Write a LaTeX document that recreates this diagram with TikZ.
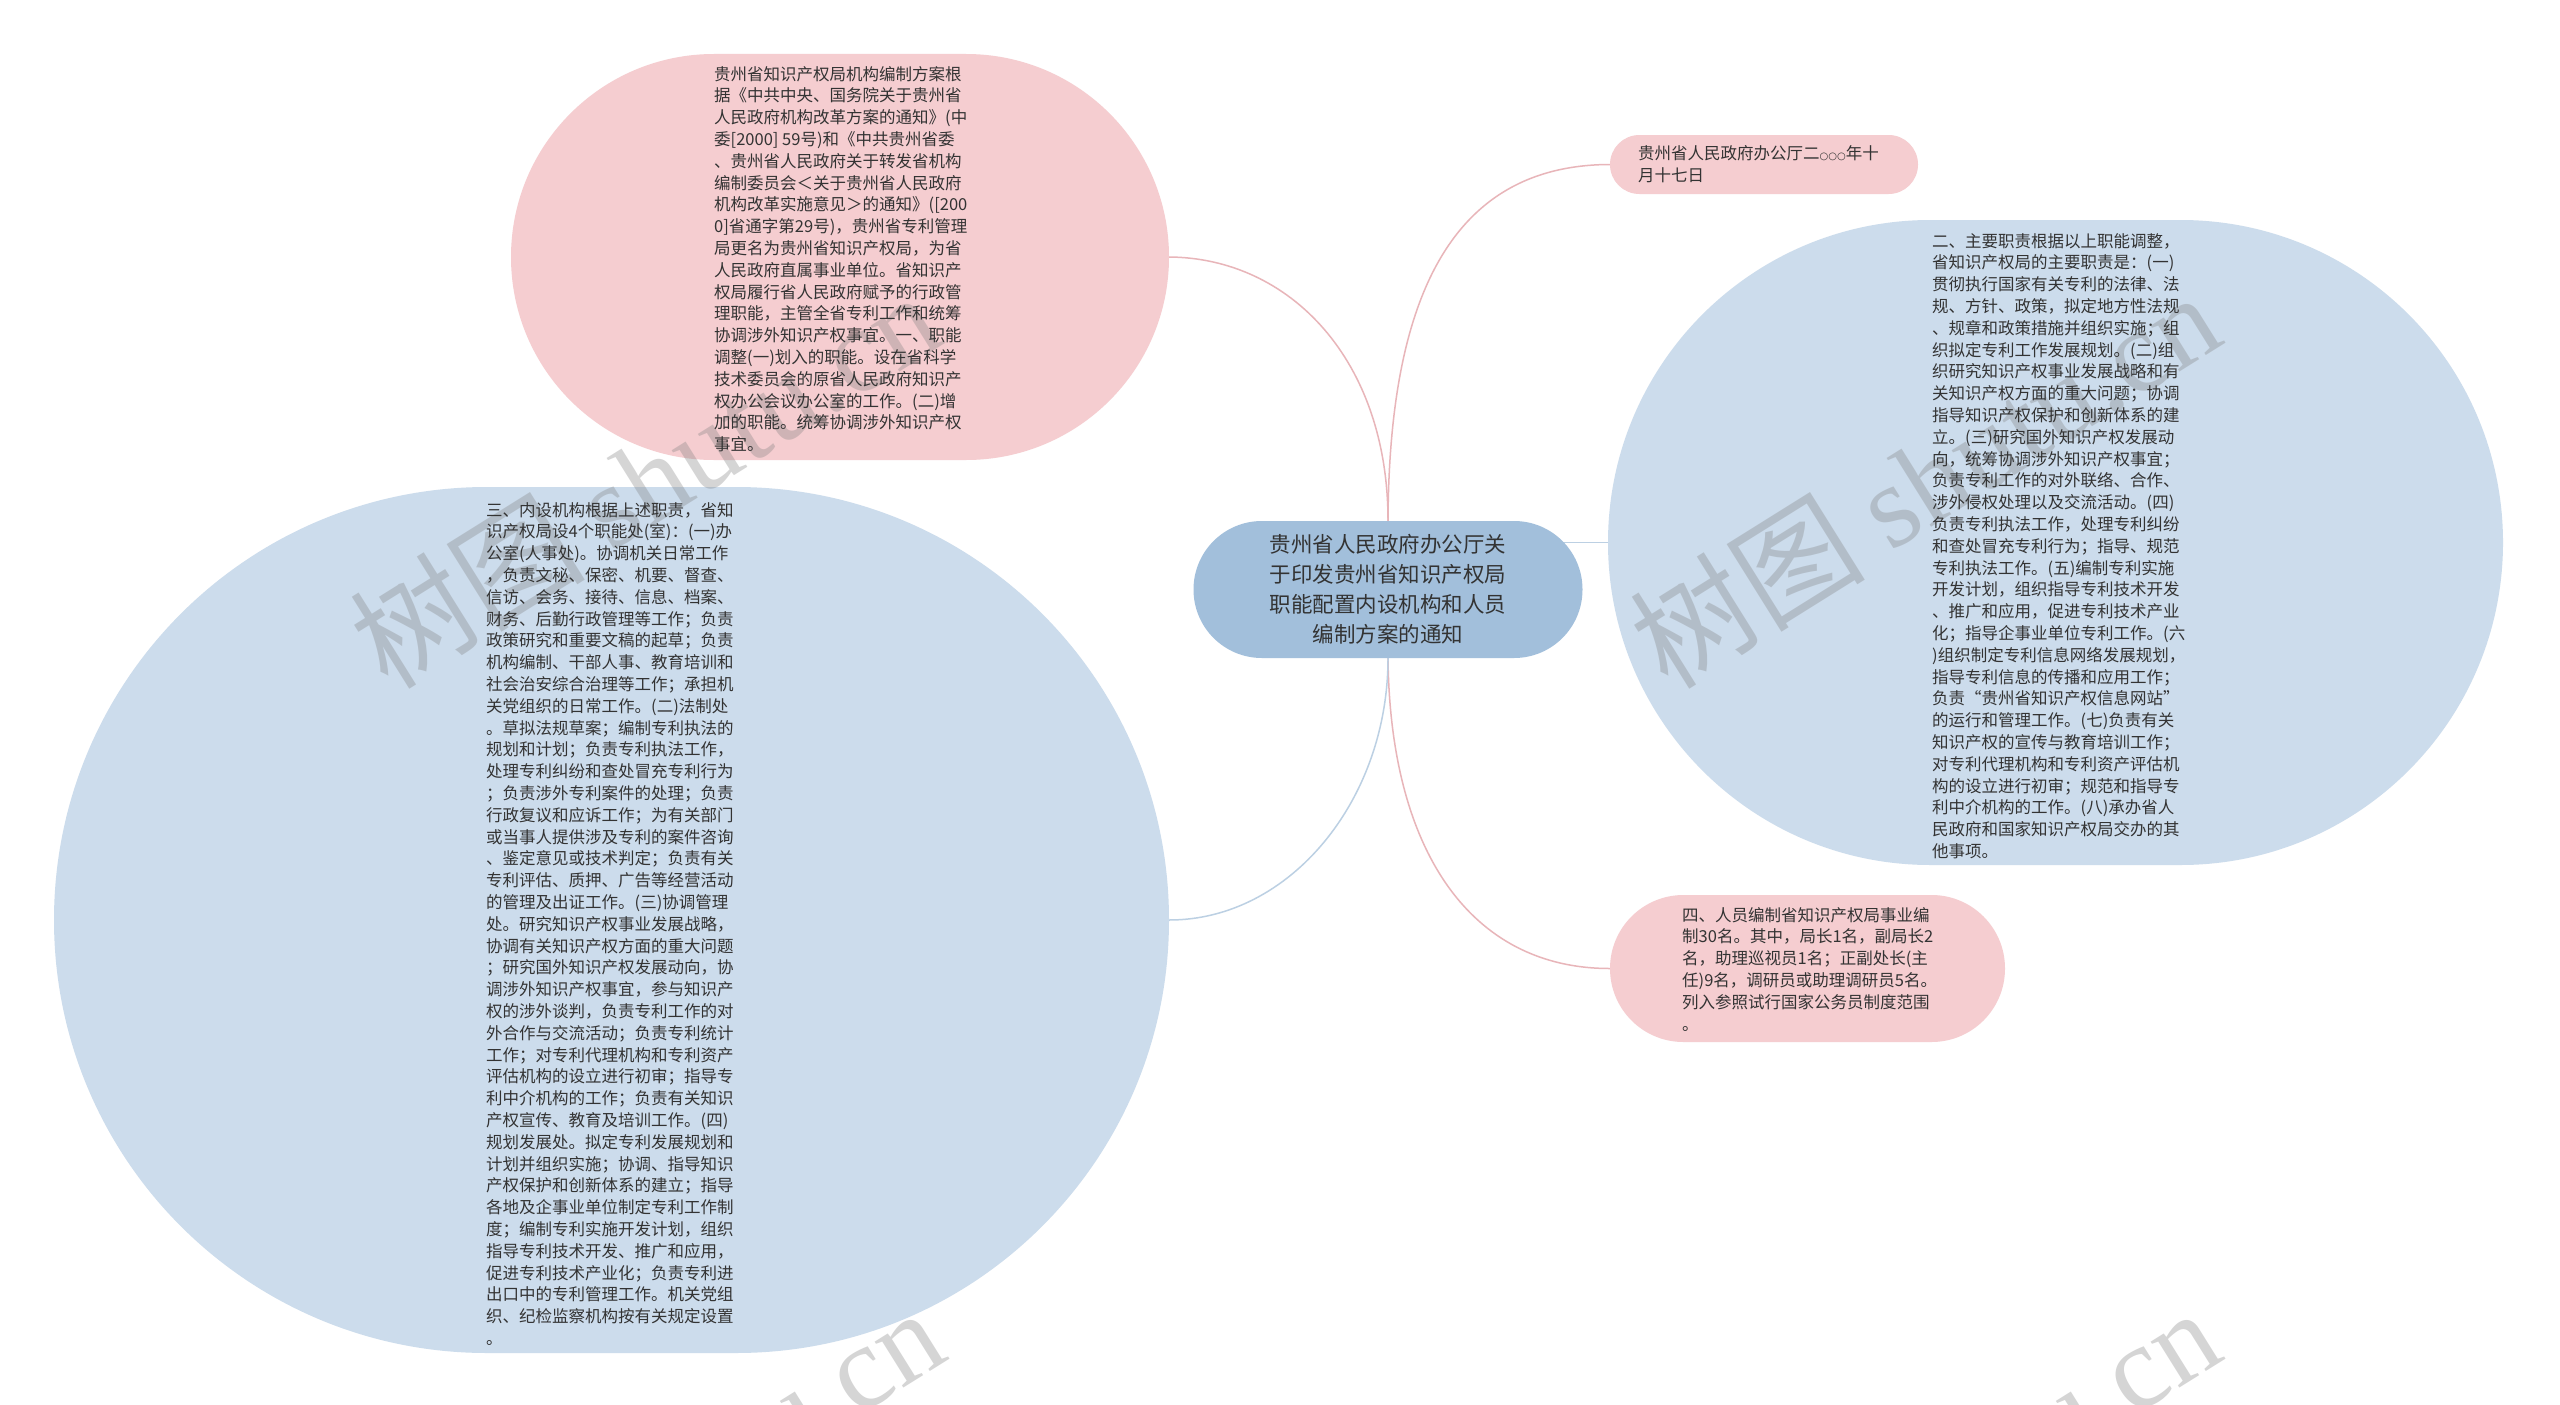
\documentclass[tikz,border=0pt]{standalone}
\usepackage{fontspec}
\setmainfont{Noto Sans CJK SC}
\newfontfamily\wmserif{Liberation Serif}
\newfontfamily\djv{DejaVu Sans}
\definecolor{pinkfill}{HTML}{F5CDD0}
\definecolor{bluefill}{HTML}{CCDCEC}
\definecolor{centerfill}{HTML}{A2BFDB}
\definecolor{pinkline}{HTML}{E8B5B9}
\definecolor{blueline}{HTML}{BCD0E3}
\definecolor{txt}{HTML}{333333}
\pgfdeclarelayer{bg}
\pgfsetlayers{bg,main}
\begin{document}
\begin{tikzpicture}[x=1pt,y=-1pt,
  pill/.style={rectangle, draw=none, inner sep=0pt},
  bodytext/.style={anchor=north west, inner sep=0pt, align=left, text=txt, font=\fontsize{16.5}{21.8}\selectfont},
  link/.style={line width=1.5pt},
  wm/.style={text=black!50, text opacity=0.33, rotate=32, anchor=base west, inner sep=0pt, font=\fontsize{118}{118}\selectfont}
]
\useasboundingbox (0,0) rectangle (2560,1405);

% shapes
\node[pill, fill=pinkfill, minimum width=658pt, minimum height=406pt, rounded corners=202.9pt] (topbubble) at (840,257) {};
\node[pill, fill=pinkfill, minimum width=308pt, minimum height=59pt, rounded corners=29.4pt] (datebox) at (1764,164.5) {};
\node[pill, fill=bluefill, minimum width=895pt, minimum height=645pt, rounded corners=322.4pt] (rightbubble) at (2055.5,542.5) {};
\node[pill, fill=pinkfill, minimum width=395pt, minimum height=147pt, rounded corners=73.4pt] (rbbox) at (1807.5,968.5) {};
\node[pill, fill=bluefill, minimum width=1115pt, minimum height=866pt, rounded corners=432.9pt] (leftbubble) at (611.5,920) {};
\node[pill, fill=centerfill, minimum width=389pt, minimum height=137pt, rounded corners=68.4pt, align=center, text=txt, font=\fontsize{21.5}{30}\selectfont] (root) at (1388,589.5) {贵州省人民政府办公厅关\\于印发贵州省知识产权局\\职能配置内设机构和人员\\编制方案的通知};

% background and connectors
\begin{pgfonlayer}{bg}
\fill[white] (0,0) rectangle (2560,1405);
\draw[link, draw=pinkline] (topbubble.east) .. controls (1290,258) and (1388,360) .. (root.north);
\draw[link, draw=pinkline] (datebox.west) .. controls (1450,165) and (1389,300) .. (root.north);
\draw[link, draw=blueline] (rightbubble.west) -- (rightbubble.west -| root.center);
\draw[link, draw=pinkline] (root.south) .. controls (1390,850) and (1470,968.5) .. (rbbox.west);
\draw[link, draw=blueline] (leftbubble.east) .. controls (1290,920) and (1388,800) .. (root.south);
\end{pgfonlayer}

% watermarks
\node[wm] (wm1) at (388,692) {树图 {\wmserif shutu.cn}};
\node[wm] (wm2) at (1668,692) {树图 {\wmserif shutu.cn}};
\node[wm] (wm3) at (392,1708) {树图 {\wmserif shutu.cn}};
\node[wm] (wm4) at (1668,1708) {树图 {\wmserif shutu.cn}};

% texts
\node[bodytext] (toptext) at (714,66) {贵州省知识产权局机构编制方案根\\
据《中共中央、国务院关于贵州省\\
人民政府机构改革方案的通知》(中\\
委[2000] 59号)和《中共贵州省委\\
、贵州省人民政府关于转发省机构\\
编制委员会＜关于贵州省人民政府\\
机构改革实施意见＞的通知》([200\\
0]省通字第29号)，贵州省专利管理\\
局更名为贵州省知识产权局，为省\\
人民政府直属事业单位。省知识产\\
权局履行省人民政府赋予的行政管\\
理职能，主管全省专利工作和统筹\\
协调涉外知识产权事宜。一、职能\\
调整(一)划入的职能。设在省科学\\
技术委员会的原省人民政府知识产\\
权办公会议办公室的工作。(二)增\\
加的职能。统筹协调涉外知识产权\\
事宜。};

\node[bodytext] (datetext) at (1638,145) {贵州省人民政府办公厅二{\djv\fontsize{10}{10}\selectfont ○○○}年十\\
月十七日};

\node[bodytext] (righttext) at (1932,233) {二、主要职责根据以上职能调整，\\
省知识产权局的主要职责是：(一)\\
贯彻执行国家有关专利的法律、法\\
规、方针、政策，拟定地方性法规\\
、规章和政策措施并组织实施；组\\
织拟定专利工作发展规划。(二)组\\
织研究知识产权事业发展战略和有\\
关知识产权方面的重大问题；协调\\
指导知识产权保护和创新体系的建\\
立。(三)研究国外知识产权发展动\\
向，统筹协调涉外知识产权事宜；\\
负责专利工作的对外联络、合作、\\
涉外侵权处理以及交流活动。(四)\\
负责专利执法工作，处理专利纠纷\\
和查处冒充专利行为；指导、规范\\
专利执法工作。(五)编制专利实施\\
开发计划，组织指导专利技术开发\\
、推广和应用，促进专利技术产业\\
化；指导企事业单位专利工作。(六\\
)组织制定专利信息网络发展规划，\\
指导专利信息的传播和应用工作；\\
负责“贵州省知识产权信息网站”\\
的运行和管理工作。(七)负责有关\\
知识产权的宣传与教育培训工作；\\
对专利代理机构和专利资产评估机\\
构的设立进行初审；规范和指导专\\
利中介机构的工作。(八)承办省人\\
民政府和国家知识产权局交办的其\\
他事项。};

\node[bodytext] (rbtext) at (1682,907) {四、人员编制省知识产权局事业编\\
制30名。其中，局长1名，副局长2\\
名，助理巡视员1名；正副处长(主\\
任)9名，调研员或助理调研员5名。\\
列入参照试行国家公务员制度范围\\
。};

\node[bodytext] (lefttext) at (486,502) {三、内设机构根据上述职责，省知\\
识产权局设4个职能处(室)：(一)办\\
公室(人事处)。协调机关日常工作\\
，负责文秘、保密、机要、督查、\\
信访、会务、接待、信息、档案、\\
财务、后勤行政管理等工作；负责\\
政策研究和重要文稿的起草；负责\\
机构编制、干部人事、教育培训和\\
社会治安综合治理等工作；承担机\\
关党组织的日常工作。(二)法制处\\
。草拟法规草案；编制专利执法的\\
规划和计划；负责专利执法工作，\\
处理专利纠纷和查处冒充专利行为\\
；负责涉外专利案件的处理；负责\\
行政复议和应诉工作；为有关部门\\
或当事人提供涉及专利的案件咨询\\
、鉴定意见或技术判定；负责有关\\
专利评估、质押、广告等经营活动\\
的管理及出证工作。(三)协调管理\\
处。研究知识产权事业发展战略，\\
协调有关知识产权方面的重大问题\\
；研究国外知识产权发展动向，协\\
调涉外知识产权事宜，参与知识产\\
权的涉外谈判，负责专利工作的对\\
外合作与交流活动；负责专利统计\\
工作；对专利代理机构和专利资产\\
评估机构的设立进行初审；指导专\\
利中介机构的工作；负责有关知识\\
产权宣传、教育及培训工作。(四)\\
规划发展处。拟定专利发展规划和\\
计划并组织实施；协调、指导知识\\
产权保护和创新体系的建立；指导\\
各地及企事业单位制定专利工作制\\
度；编制专利实施开发计划，组织\\
指导专利技术开发、推广和应用，\\
促进专利技术产业化；负责专利进\\
出口中的专利管理工作。机关党组\\
织、纪检监察机构按有关规定设置\\
。};
\end{tikzpicture}
\end{document}
